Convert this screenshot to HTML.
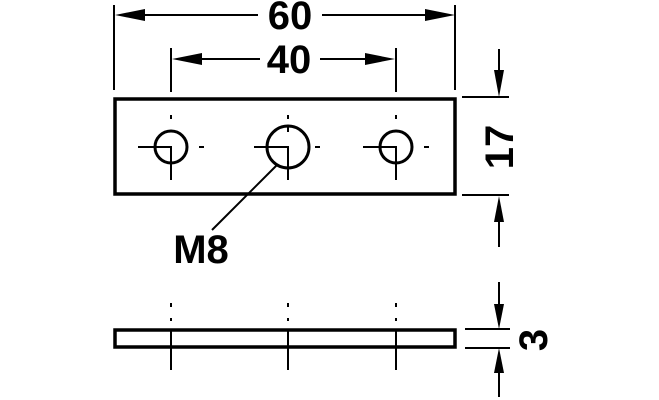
<!DOCTYPE html>
<html><head><style>body{margin:0;background:#fff}svg{display:block}</style></head><body>
<svg width="659" height="400" xmlns="http://www.w3.org/2000/svg" font-family="Liberation Sans, sans-serif" font-weight="bold">
<g stroke="#000" fill="none">
<rect x="115" y="99" width="340" height="95" stroke-width="3.5"/>
<circle cx="171" cy="147" r="16" stroke-width="3"/>
<circle cx="288" cy="147" r="21" stroke-width="3"/>
<circle cx="396" cy="147" r="16" stroke-width="3"/>
<g stroke-width="2">
<path d="M138 147H171V180M171 115V119M199 147H204"/>
<path d="M254 147H288V180M288 115V119M315 147H320M288 125V132"/>
<path d="M363 147H396V180M396 115V119M424 147H429"/>
</g>
<path d="M114 5V90M455 5V90M171 48V92M396 48V92" stroke-width="2"/>
<path d="M130 15H258M322 15H440M180 59H260M320 59H390" stroke-width="2"/>
<path d="M277 165L212 230" stroke-width="2"/>
<path d="M462 97H509M462 195H509M499 49V80M499 212V247" stroke-width="2"/>
<rect x="115" y="330" width="340" height="17" stroke-width="3.5"/>
<path d="M171 303V307M171 318V321M171 330V370M288 303V307M288 318V321M288 330V370M396 303V307M396 318V321M396 330V370" stroke-width="2"/>
<path d="M465 329H510M465 348H510M499 282V312M499 365V397" stroke-width="2"/>
</g>
<g fill="#000">
<path d="M115 15L145 9V21Z"/><path d="M455 15L425 9V21Z"/>
<path d="M172 59L202 53V65Z"/><path d="M395 59L365 53V65Z"/>
<path d="M499 97L494 70H504Z"/><path d="M499 196L494 222H504Z"/>
<path d="M499 329L494 304H504Z"/><path d="M499 348L494 373H504Z"/>
</g>
<g font-size="40" text-anchor="middle">
<text x="290" y="29">60</text>
<text x="289" y="73">40</text>
<text x="201" y="263">M8</text>
<text transform="translate(513,147) rotate(-90)">17</text>
<text transform="translate(547,340) rotate(-90)">3</text>
</g>
</svg>
</body></html>
